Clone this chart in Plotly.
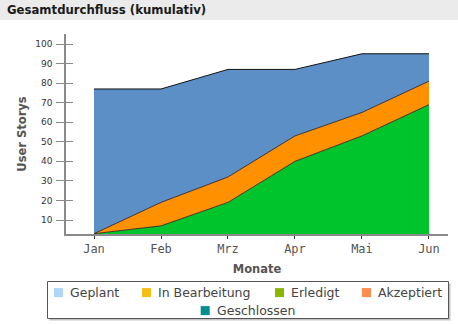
import plotly.graph_objects as go

# ---- data ----
months = ["Jan", "Feb", "Mrz", "Apr", "Mai", "Jun"]
erledigt_area = [3, 7, 19, 40, 53, 69]      # green (bottom layer)
akzeptiert_area = [0, 12, 13, 13, 12, 12]   # orange (middle layer)
geplant_area = [74, 58, 55, 34, 30, 14]     # blue (top layer)
y_ticks = [10, 20, 30, 40, 50, 60, 70, 80, 90, 100]
legend_names = ["Geplant", "In Bearbeitung", "Erledigt", "Akzeptiert", "Geschlossen"]
legend_colors = ["#aed6f6", "#f6bd12", "#8ab800", "#ff8c4a", "#008f8a"]

W, H = 458, 324
L, R, T, B = 66, 448, 34, 234  # plot area in pixels


def px(x):
    return (x - L) / (R - L)


def py(y):
    return (B - y) / (B - T)


xs = list(range(len(months)))
fig = go.Figure()
line_col = "rgba(50,30,30,0.85)"
fig.add_trace(go.Scatter(x=xs, y=erledigt_area, stackgroup="s", name="Erledigt",
                         mode="lines", line=dict(color=line_col, width=1),
                         fillcolor="#00c42b", showlegend=False))
fig.add_trace(go.Scatter(x=xs, y=akzeptiert_area, stackgroup="s", name="Akzeptiert",
                         mode="lines", line=dict(color=line_col, width=1),
                         fillcolor="#ff9000", showlegend=False))
fig.add_trace(go.Scatter(x=xs, y=geplant_area, stackgroup="s", name="Geplant",
                         mode="lines", line=dict(color="#111111", width=1),
                         fillcolor="#5b8fc6", showlegend=False))
# second y axis only for inside tick marks
fig.add_trace(go.Scatter(x=[None], y=[None], yaxis="y2", showlegend=False))

shapes = []
annotations = []
# title bar
shapes.append(dict(type="rect", xref="paper", yref="paper", x0=px(0), x1=px(W), y0=py(20), y1=py(0),
                   fillcolor="#ebebeb", line=dict(width=0), layer="below"))
annotations.append(dict(text="<b>Gesamtdurchfluss (kumulativ)</b>", xref="paper", yref="paper",
                        x=px(5), y=py(10), xanchor="left", yanchor="middle", showarrow=False,
                        font=dict(family="DejaVu Sans", size=11.7, color="#1a1a1a")))

# legend box with shadow
shapes.append(dict(type="rect", xref="paper", yref="paper", x0=px(49.5), x1=px(450.5), y0=py(320.5), y1=py(283.5),
                   fillcolor="#c4c4c4", line=dict(width=0)))
shapes.append(dict(type="rect", xref="paper", yref="paper", x0=px(47.5), x1=px(448.5), y0=py(318.5), y1=py(281.5),
                   fillcolor="white", line=dict(color="#555555", width=1)))
sq_x = [54, 142, 275, 362, 200.7]
sq_y = [292.6, 292.6, 292.6, 292.6, 310.6]
for name, col, sx, sy in zip(legend_names, legend_colors, sq_x, sq_y):
    shapes.append(dict(type="rect", xref="paper", yref="paper", x0=px(sx), x1=px(sx + 9),
                       y0=py(sy + 4.5), y1=py(sy - 4.5), fillcolor=col, line=dict(width=0)))
    annotations.append(dict(text=name, xref="paper", yref="paper", x=px(sx + 14), y=py(sy),
                            xanchor="left", yanchor="middle", showarrow=False,
                            font=dict(family="DejaVu Sans", size=12.5, color="#444444")))

ymin = (239.56 - B) / 1.9556
ymax = (239.56 - T) / 1.9556

fig.update_layout(
    width=W, height=H,
    margin=dict(l=L, r=W - R, t=T, b=H - B, pad=0),
    paper_bgcolor="white", plot_bgcolor="white",
    showlegend=False,
    xaxis=dict(range=[-0.418, 5.284], tickvals=xs, ticktext=months, showgrid=False, zeroline=False,
               showline=True, linecolor="#8a8a8a", linewidth=1.5, ticks="outside", ticklen=3,
               tickcolor="#333333", tickwidth=1,
               tickfont=dict(family="DejaVu Sans Mono", size=12, color="#555555"),
               title=dict(text="<b>Monate</b>", standoff=10,
                          font=dict(family="DejaVu Sans", size=11.5, color="#555555"))),
    yaxis=dict(range=[ymin, ymax], tickvals=y_ticks, showgrid=False, zeroline=False,
               showline=True, linecolor="#8a8a8a", linewidth=1.5, ticks="outside", ticklen=8,
               tickcolor="#8a8a8a", tickwidth=1, ticklabelstandoff=2,
               tickfont=dict(family="DejaVu Sans", size=9, color="#333333"),
               title=dict(text="<b>User Storys</b>", standoff=6,
                          font=dict(family="DejaVu Sans", size=11.5, color="#555555"))),
    yaxis2=dict(range=[ymin, ymax], tickvals=y_ticks, overlaying="y", side="left", showgrid=False,
                zeroline=False, showline=False, ticks="inside", ticklen=7, tickcolor="#8a8a8a",
                tickwidth=1, showticklabels=False),
    shapes=shapes, annotations=annotations,
)

fig.write_html("out.html")
